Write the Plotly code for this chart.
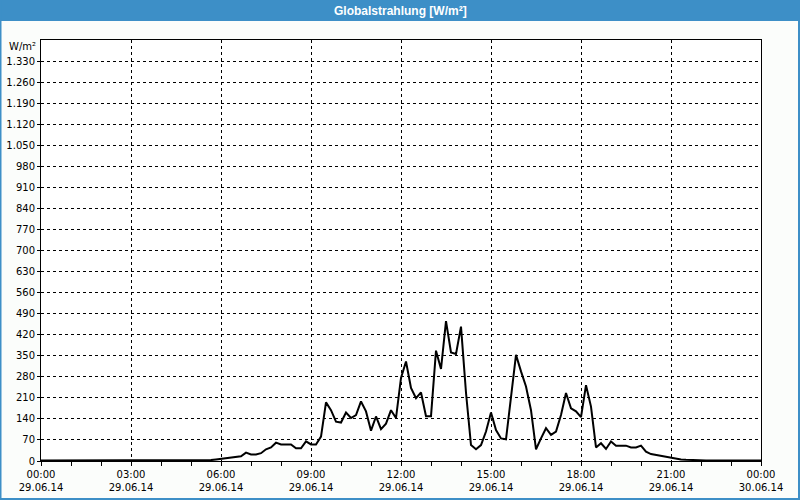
import pandas as pd
import plotly.graph_objects as go

# 10-minute samples, 29.06.14 00:00 .. 30.06.14 00:00
times = pd.date_range("2014-06-29 00:00", "2014-06-30 00:00", freq="10min")
radiation = [
    2, 2, 2, 2, 2, 2, 2, 2, 2, 2, 2, 2, 2, 2, 2, 2, 2, 2, 2, 2, 2, 2, 2, 2, 2, 2, 2, 2, 2, 2, 2, 2, 2,
    2, 3, 5, 7, 9, 11, 14, 16, 28, 22, 22, 26, 39, 45, 61, 55, 55, 55, 42, 42, 65, 55, 55, 81,
    195, 169, 131, 128, 161, 143, 153, 198, 165, 101, 148, 106, 124, 169, 143, 276, 331, 243, 209,
    228, 149, 149, 367, 306, 465, 361, 356, 447, 227, 53, 39, 53, 98, 161, 103, 75, 72, 214, 353,
    298, 248, 169, 39, 75, 109, 87, 98, 153, 226, 175, 165, 146, 252, 181, 45, 59, 40, 65, 51, 51,
    51, 45, 45, 51, 31, 23, 20, 16, 12, 10, 8, 5, 4, 3, 3,
    2, 2, 2, 2, 2, 2, 2, 2, 2, 2, 2, 2, 2,
]
y_ticks = list(range(0, 1331, 70))
title_text = "Globalstrahlung [W/m²]"
unit_text = "W/m²"

W, H = 800, 500
L, R, T, B = 41, 39, 40, 39
pw, ph = W - L - R, H - T - B


def px(p):
    return (p - L) / pw


def py(q):
    return (H - B - q) / ph


blue = "#3d8fc7"
font = "DejaVu Sans"

fig = go.Figure()
fig.add_trace(go.Scatter(
    x=times, y=radiation, mode="lines",
    line=dict(color="black", width=2),
    hoverinfo="skip", showlegend=False,
))

shapes = [
    # title bar
    dict(type="rect", xref="paper", yref="paper", x0=px(0), x1=px(W), y0=py(21), y1=py(0),
         fillcolor=blue, line=dict(width=0), layer="above"),
    # outer border
    dict(type="rect", xref="paper", yref="paper", x0=px(0.5), x1=px(W - 1), y0=py(H - 1), y1=py(0),
         fillcolor="rgba(0,0,0,0)", line=dict(color=blue, width=2), layer="above"),
]

fig.update_layout(
    width=W, height=H,
    margin=dict(l=L, r=R, t=T, b=B, pad=0, autoexpand=False),
    paper_bgcolor="#fbfdfb",
    plot_bgcolor="white",
    separators=",.",
    font=dict(family=font, size=10, color="black"),
    shapes=shapes,
    annotations=[
        dict(text="<b>" + title_text + "</b>", xref="paper", yref="paper", x=px(400), y=py(10.5),
             xanchor="center", yanchor="middle", showarrow=False,
             font=dict(family="Liberation Sans", size=12, color="white")),
        dict(text=unit_text, xref="paper", yref="paper", x=px(38), y=py(46),
             xanchor="right", yanchor="middle", showarrow=False,
             font=dict(family=font, size=10, color="black")),
    ],
    xaxis=dict(
        type="date",
        range=["2014-06-29 00:00", "2014-06-30 00:00"],
        tick0="2014-06-29 00:00", dtick=3 * 3600 * 1000,
        tickformat="%H:%M<br>%d.%m.%y",
        showgrid=True, gridcolor="black", gridwidth=1, griddash="3px,3px",
        showline=True, linecolor="black", linewidth=1, mirror=True,
        ticks="outside", ticklen=4, tickcolor="black",
        minor=dict(dtick=3600 * 1000, ticks="outside", ticklen=4, tickcolor="black", showgrid=False),
        zeroline=False, fixedrange=True, automargin=False,
    ),
    yaxis=dict(
        range=[0, 1400],
        tickvals=y_ticks,
        separatethousands=True,
        showgrid=True, gridcolor="black", gridwidth=1, griddash="3px,3px",
        showline=True, linecolor="black", linewidth=1, mirror=True,
        ticks="outside", ticklen=3, tickcolor="black",
        zeroline=False, fixedrange=True, automargin=False,
    ),
)

fig.write_html("out.html")
